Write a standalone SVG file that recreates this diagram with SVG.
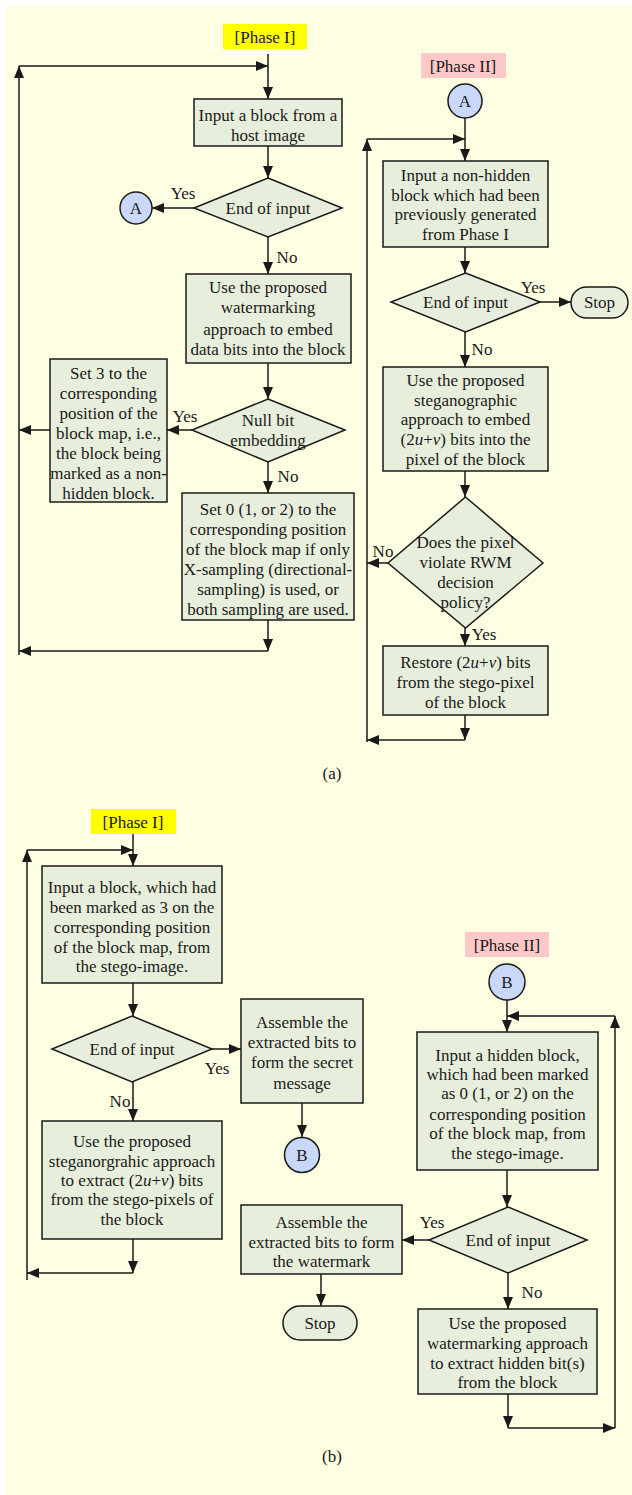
<svg xmlns="http://www.w3.org/2000/svg" width="632" height="1495" viewBox="0 0 632 1495">
<style>
text{font-family:"Liberation Serif","Times New Roman",serif;font-size:17px;fill:#1a1a1a;text-anchor:middle}
.box{fill:#E8EEDC;stroke:#1a1a1a;stroke-width:1.5}
.circ{fill:#C9D8F8;stroke:#1a1a1a;stroke-width:1.5}
.c{fill:none;stroke:#1a1a1a;stroke-width:1.5;marker-end:url(#ah)}
.l{fill:none;stroke:#1a1a1a;stroke-width:1.5}
.lbl{text-anchor:middle}
</style>
<defs>
<marker id="ah" viewBox="0 0 12 10" refX="12" refY="5" markerWidth="12" markerHeight="10" orient="auto" markerUnits="userSpaceOnUse"><path d="M0,0 L12,5 L0,10 z" fill="#1a1a1a"/></marker>
</defs>
<rect x="6" y="6" width="626" height="1489" fill="#FEFEE2"/>

<g id="connectors">
<!-- (a) phase I -->
<path class="c" d="M268,54 L268,99"/>
<path class="c" d="M19,655 L19,66"/>
<path class="c" d="M19,66 L268,66"/>
<path class="c" d="M268,146 L268,178"/>
<path class="c" d="M194,208 L152,208"/>
<path class="c" d="M268,237 L268,274"/>
<path class="c" d="M268,363 L268,399"/>
<path class="c" d="M192,430 L167,430"/>
<path class="c" d="M50,430 L19,430"/>
<path class="c" d="M268,462 L268,493"/>
<path class="c" d="M268,620 L268,651"/>
<path class="c" d="M268,651 L19,651"/>
<!-- (a) phase II -->
<path class="c" d="M465,118 L465,161"/>
<path class="c" d="M367,742 L367,139"/>
<path class="c" d="M367,139 L465,139"/>
<path class="c" d="M465,247 L465,273"/>
<path class="c" d="M540,302 L571,302"/>
<path class="c" d="M465,332 L465,367"/>
<path class="c" d="M465,471 L465,497"/>
<path class="c" d="M388,563 L367,563"/>
<path class="c" d="M465,628 L465,646"/>
<path class="c" d="M465,715 L465,740"/>
<path class="c" d="M465,740 L367,740"/>
<!-- (b) phase I -->
<path class="c" d="M133,834 L133,866"/>
<path class="c" d="M27,1280 L27,850"/>
<path class="c" d="M27,850 L133,850"/>
<path class="c" d="M133,983 L133,1016"/>
<path class="c" d="M212,1049 L241,1049"/>
<path class="c" d="M302,1103 L302,1137"/>
<path class="c" d="M133,1082 L133,1121"/>
<path class="c" d="M133,1239 L133,1273"/>
<path class="c" d="M133,1273 L27,1273"/>
<!-- (b) phase II -->
<path class="c" d="M507,1000 L507,1032"/>
<path class="c" d="M615,1428 L615,1016"/>
<path class="c" d="M615,1016 L507,1016"/>
<path class="c" d="M507,1170 L507,1207"/>
<path class="c" d="M429,1240 L402,1240"/>
<path class="c" d="M321,1274 L321,1306"/>
<path class="c" d="M508,1273 L508,1309"/>
<path class="c" d="M508,1394 L508,1428"/>
<path class="c" d="M508,1428 L615,1428"/>
</g>

<g id="edge-labels">
<text x="183" y="199">Yes</text>
<text x="287" y="263">No</text>
<text x="185" y="422">Yes</text>
<text x="288" y="482">No</text>
<text x="533" y="293">Yes</text>
<text x="482" y="355">No</text>
<text x="383" y="557">No</text>
<text x="484" y="640">Yes</text>
<text x="217" y="1074">Yes</text>
<text x="120" y="1107">No</text>
<text x="432" y="1228">Yes</text>
<text x="532" y="1298">No</text>
</g>

<g id="phase1a-label"><rect x="223" y="24" width="84" height="25" fill="#FFFF00"/><text x="265" y="43">[Phase I]</text></g>
<g id="phase2a-label"><rect x="421" y="53" width="85" height="25" fill="#FFC8C8"/><text x="463" y="72">[Phase II]</text></g>

<g id="a-box1"><rect class="box" x="194" y="99" width="148" height="47"/><text x="268" y="121">Input a block from a</text><text x="268" y="141">host image</text></g>
<g id="a-dec1"><polygon class="box" points="268,178 342,208 268,237 194,208"/><text x="268" y="214">End of input</text></g>
<g id="a-circA1"><circle class="circ" cx="136" cy="208" r="16"/><text x="136" y="214">A</text></g>
<g id="a-box2"><rect class="box" x="186" y="274" width="165" height="89"/><text x="268" y="293">Use the proposed</text><text x="268" y="313">watermarking</text><text x="268" y="335">approach to embed</text><text x="268" y="355">data bits into the block</text></g>
<g id="a-dec2"><polygon class="box" points="268,399 345,430 268,462 192,430"/><text x="268" y="426">Null bit</text><text x="268" y="446">embedding</text></g>
<g id="a-box3"><rect class="box" x="50" y="359" width="117" height="143"/><text x="108.5" y="379">Set 3 to the</text><text x="108.5" y="399">corresponding</text><text x="108.5" y="419">position of the</text><text x="108.5" y="439">block map, i.e.,</text><text x="108.5" y="459">the block being</text><text x="108.5" y="479">marked as a non-</text><text x="108.5" y="499">hidden block.</text></g>
<g id="a-box4"><rect class="box" x="182" y="493" width="172" height="127"/><text x="268" y="515">Set 0 (1, or 2) to the</text><text x="268" y="535">corresponding position</text><text x="268" y="555">of the block map if only</text><text x="268" y="575">X-sampling (directional-</text><text x="268" y="595">sampling) is used, or</text><text x="268" y="615">both sampling are used.</text></g>

<g id="a-circA2"><circle class="circ" cx="465" cy="101" r="17"/><text x="465" y="107">A</text></g>
<g id="a-box5"><rect class="box" x="383" y="161" width="165" height="86"/><text x="465.5" y="181">Input a non-hidden</text><text x="465.5" y="201">block which had been</text><text x="465.5" y="220">previously generated</text><text x="465.5" y="240">from Phase I</text></g>
<g id="a-dec3"><polygon class="box" points="465.5,273 540,302 465.5,332 391,302"/><text x="465.5" y="308">End of input</text></g>
<g id="a-stop1"><rect class="box" x="571" y="287" width="57" height="31" rx="15.5"/><text x="599.5" y="308">Stop</text></g>
<g id="a-box6"><rect class="box" x="383" y="367" width="165" height="104"/><text x="465.5" y="386">Use the proposed</text><text x="465.5" y="406">steganographic</text><text x="465.5" y="425">approach to embed</text><text x="465.5" y="445">(2<tspan font-style="italic">u</tspan>+<tspan font-style="italic">v</tspan>) bits into the</text><text x="465.5" y="465">pixel of the block</text></g>
<g id="a-dec4"><polygon class="box" points="465.5,497 543,563 465.5,628 388,563"/><text x="465.5" y="548">Does the pixel</text><text x="465.5" y="568">violate RWM</text><text x="465.5" y="588">decision</text><text x="465.5" y="608">policy?</text></g>
<g id="a-box7"><rect class="box" x="383" y="646" width="165" height="69"/><text x="465.5" y="668">Restore (2<tspan font-style="italic">u</tspan>+<tspan font-style="italic">v</tspan>) bits</text><text x="465.5" y="688">from the stego-pixel</text><text x="465.5" y="708">of the block</text></g>

<text x="332" y="779">(a)</text>

<g id="phase1b-label"><rect x="91" y="809" width="85" height="25" fill="#FFFF00"/><text x="133" y="828">[Phase I]</text></g>
<g id="phase2b-label"><rect x="465" y="932" width="84" height="25" fill="#FFC8C8"/><text x="507" y="951">[Phase II]</text></g>

<g id="b-box8"><rect class="box" x="42" y="866" width="180" height="117"/><text x="132" y="893">Input a block, which had</text><text x="132" y="913">been marked as 3 on the</text><text x="132" y="933">corresponding position</text><text x="132" y="953">of the block map, from</text><text x="132" y="972">the stego-image.</text></g>
<g id="b-dec5"><polygon class="box" points="132,1016 212,1049 132,1082 52,1049"/><text x="132" y="1055">End of input</text></g>
<g id="b-box9"><rect class="box" x="241" y="999" width="122" height="104"/><text x="302" y="1028">Assemble the</text><text x="302" y="1048">extracted bits to</text><text x="302" y="1068">form the secret</text><text x="302" y="1089">message</text></g>
<g id="b-circB1"><circle class="circ" cx="302" cy="1155" r="17.5"/><text x="302" y="1161">B</text></g>
<g id="b-box10"><rect class="box" x="42" y="1121" width="180" height="118"/><text x="132" y="1147">Use the proposed</text><text x="132" y="1167">steganorgrahic approach</text><text x="132" y="1186">to extract (2<tspan font-style="italic">u</tspan>+<tspan font-style="italic">v</tspan>) bits</text><text x="132" y="1205">from the stego-pixels of</text><text x="132" y="1225">the block</text></g>

<g id="b-circB2"><circle class="circ" cx="507" cy="982" r="18"/><text x="507" y="988">B</text></g>
<g id="b-box12"><rect class="box" x="417" y="1032" width="181" height="138"/><text x="507.5" y="1061">Input a hidden block,</text><text x="507.5" y="1080">which had been marked</text><text x="507.5" y="1099">as 0 (1, or 2) on the</text><text x="507.5" y="1120">corresponding position</text><text x="507.5" y="1139">of the block map, from</text><text x="507.5" y="1159">the stego-image.</text></g>
<g id="b-dec6"><polygon class="box" points="508,1207 587,1240 508,1273 429,1240"/><text x="508" y="1246">End of input</text></g>
<g id="b-box11"><rect class="box" x="241" y="1205" width="161" height="69"/><text x="321.5" y="1228">Assemble the</text><text x="321.5" y="1248">extracted bits to form</text><text x="321.5" y="1267">the watermark</text></g>
<g id="b-stop2"><rect class="box" x="283" y="1306" width="74" height="34" rx="17"/><text x="320" y="1329">Stop</text></g>
<g id="b-box13"><rect class="box" x="418" y="1309" width="179" height="85"/><text x="507.5" y="1329">Use the proposed</text><text x="507.5" y="1349">watermarking approach</text><text x="507.5" y="1369">to extract hidden bit(s)</text><text x="507.5" y="1388">from the block</text></g>

<text x="332" y="1462">(b)</text>
</svg>
